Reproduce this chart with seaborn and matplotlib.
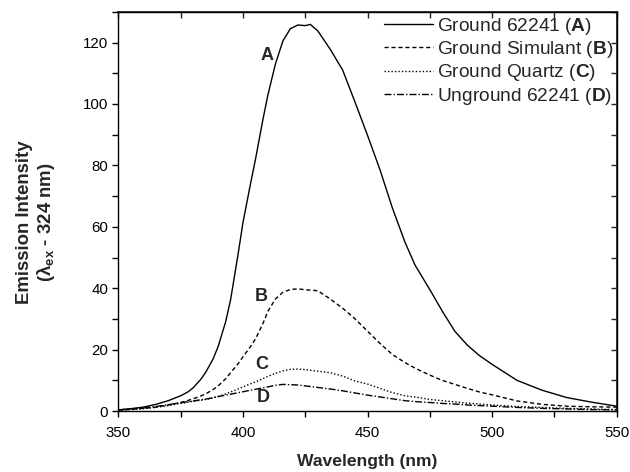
import matplotlib
matplotlib.use("Agg")
import matplotlib.pyplot as plt
from matplotlib.ticker import MultipleLocator, NullFormatter
import seaborn as sns
import pandas as pd

# wavelength grid (nm) and emission intensity of each sample
wavelength = [350, 355, 360, 365, 370, 375, 378, 380, 383, 385, 388, 390, 393, 395,
              398, 400, 403, 405, 408, 410, 413, 416, 419, 422, 425, 427, 430, 435,
              440, 445, 450, 455, 460, 465, 469, 475, 480, 485, 490, 495, 500, 510,
              520, 530, 540, 550]

ground_62241 = [0.4, 0.8, 1.3, 2.2, 3.4, 5.0, 6.3, 7.6, 10.3, 12.6, 17.0, 21.0, 29.0, 36.2,
                51.0, 61.5, 74.0, 82.0, 95.0, 103.0, 113.0, 120.5, 124.5, 125.7, 125.5, 125.9, 123.8, 117.8,
                111.0, 100.5, 89.7, 78.5, 66.0, 55.0, 47.6, 39.5, 32.5, 26.0, 21.5, 18.0, 15.2, 10.0,
                6.8, 4.4, 2.9, 1.6]

ground_simulant = [0.3, 0.6, 0.9, 1.3, 2.0, 2.8, 3.5, 4.0, 4.9, 5.6, 7.0, 8.2, 10.5, 12.5,
                   15.4, 17.7, 21.0, 23.5, 28.5, 32.5, 36.5, 38.7, 39.6, 39.8, 39.5, 39.4, 39.2, 36.5,
                   33.5, 30.0, 26.0, 22.0, 18.4, 15.8, 14.0, 11.7, 10.0, 8.7, 7.4, 6.2, 5.3, 3.3,
                   2.2, 1.6, 1.4, 1.3]

ground_quartz = [0.3, 0.5, 0.8, 1.2, 1.8, 2.5, 2.9, 3.2, 3.5, 3.8, 4.3, 4.8, 5.6, 6.2,
                 7.2, 7.9, 8.9, 9.5, 10.6, 11.3, 12.3, 13.1, 13.6, 13.7, 13.5, 13.3, 13.0, 12.5,
                 11.4, 9.8, 8.8, 7.4, 6.0, 5.0, 4.6, 3.8, 3.4, 3.0, 2.6, 2.3, 2.0, 1.5,
                 1.2, 0.9, 0.7, 0.5]

unground_62241 = [0.4, 0.7, 1.0, 1.5, 2.1, 2.7, 3.1, 3.3, 3.7, 3.9, 4.4, 4.7, 5.2, 5.5,
                  6.0, 6.3, 6.8, 7.1, 7.6, 7.9, 8.4, 8.7, 8.6, 8.5, 8.2, 8.0, 7.7, 7.2,
                  6.6, 5.9, 5.2, 4.6, 4.0, 3.4, 3.1, 2.8, 2.5, 2.3, 2.0, 1.8, 1.6, 1.2,
                  0.9, 0.7, 0.5, 0.4]

sample_names = ["Ground 62241 ($\\bf{A}$)", "Ground Simulant ($\\bf{B}$)",
                "Ground Quartz ($\\bf{C}$)", "Unground 62241 ($\\bf{D}$)"]
curve_letters = ["A", "B", "C", "D"]
letter_x = [409.5, 407.4, 407.4, 408.1]
letter_y = [115.9, 37.2, 15.2, 4.4]

sns.set_theme(style="ticks")
plt.rcParams["font.family"] = ["Liberation Sans", "DejaVu Sans"]
plt.rcParams["mathtext.fontset"] = "custom"
plt.rcParams["mathtext.rm"] = "Liberation Sans"
plt.rcParams["mathtext.bf"] = "Liberation Sans:bold"

df = pd.concat([
    pd.DataFrame({"wavelength": wavelength, "intensity": vals, "sample": name})
    for name, vals in zip(sample_names,
                          [ground_62241, ground_simulant, ground_quartz, unground_62241])
])

fig = plt.figure(figsize=(6.3, 4.72), dpi=100)
ax = fig.add_axes([0.188, 0.129, 0.791, 0.846])

sns.lineplot(data=df, x="wavelength", y="intensity", hue="sample", style="sample",
             palette=["black"] * 4,
             dashes=["", (3, 2), (1, 1.5), (5, 1.5, 1, 1.5)],
             linewidth=1.0, ax=ax)

for letter, lx, ly in zip(curve_letters, letter_x, letter_y):
    ax.text(lx, ly, letter, ha="center", va="center", fontsize=13, fontweight="bold")

ax.set_xlim(350, 550)
ax.set_ylim(0, 130)
ax.xaxis.set_major_locator(MultipleLocator(50))
ax.xaxis.set_minor_locator(MultipleLocator(25))
ax.yaxis.set_major_locator(MultipleLocator(20))
ax.yaxis.set_minor_locator(MultipleLocator(10))
ax.tick_params(which="both", direction="out", length=4, width=1.0, labelsize=10.8,
               colors="black")
ax.tick_params(axis="x", pad=7)

for side in ["left", "right", "top", "bottom"]:
    ax.spines[side].set_visible(True)
    ax.spines[side].set_linewidth(1.0)
    ax.spines[side].set_color("black")

# inward ticks on the top and right frame
top = ax.secondary_xaxis("top")
top.xaxis.set_major_locator(MultipleLocator(25))
top.xaxis.set_major_formatter(NullFormatter())
top.tick_params(direction="in", length=4, width=1.0)
right = ax.secondary_yaxis("right")
right.yaxis.set_major_locator(MultipleLocator(10))
right.yaxis.set_major_formatter(NullFormatter())
right.tick_params(direction="in", length=4, width=1.0)

ax.set_xlabel("Wavelength (nm)", fontsize=12.6, fontweight="bold", labelpad=10)
ax.set_ylabel("Emission Intensity\n(λ$_{\\mathregular{ex}}$ - 324 nm)",
              fontsize=13.4, fontweight="bold", linespacing=1.15)
ax.yaxis.set_label_coords(-0.123, 0.473)

sns.move_legend(ax, "upper right", bbox_to_anchor=(1.0, 1.0), title=None,
                frameon=False, prop={"size": 13.8},
                handlelength=2.6, handletextpad=0.17, labelspacing=0.12,
                borderaxespad=0.0, borderpad=0.2)

fig.savefig("out.png", dpi=100)
